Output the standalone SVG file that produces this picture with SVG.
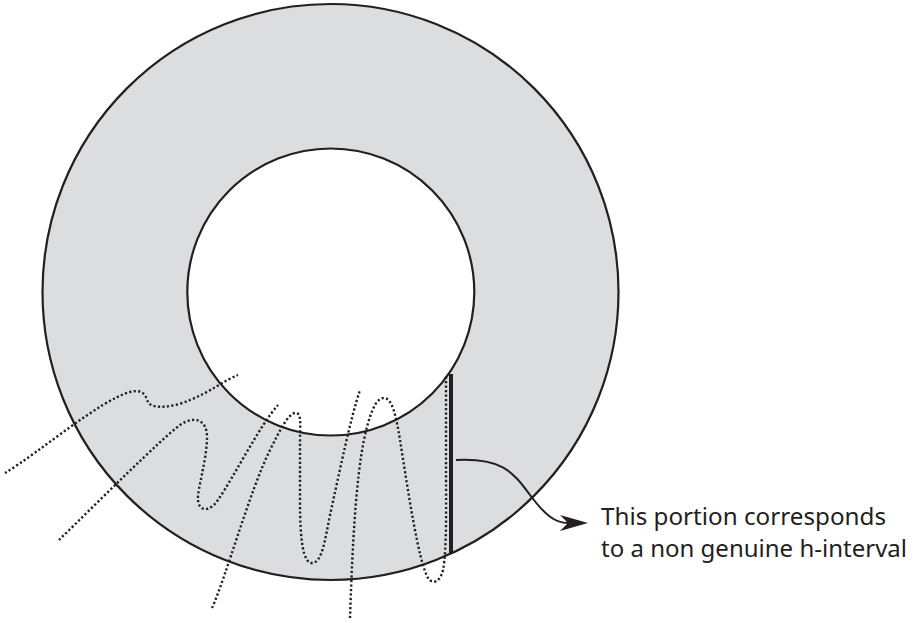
<svg xmlns="http://www.w3.org/2000/svg" width="916" height="623" viewBox="0 0 916 623">
  <style>
    .ring { stroke: #231f20; stroke-width: 2.2; }
    .dots { fill: none; stroke: #231f20; stroke-width: 2.4; stroke-dasharray: 2.2 2.3; }
    .conn { fill: none; stroke: #231f20; stroke-width: 2; }
    .label { font-family: "Noto Sans", "Liberation Sans", Arial, sans-serif; font-size: 24px; fill: #231f20; }
  </style>
  <defs>
    <marker id="arrow" viewBox="-30 -10 30 20" refX="-20" refY="0" markerWidth="30" markerHeight="20" markerUnits="userSpaceOnUse" orient="auto">
      <path d="M0,0 L-28,-8 L-20,0 L-28,8 Z" fill="#231f20"/>
    </marker>
  </defs>
  <rect width="916" height="623" fill="#ffffff"/>

  <g id="annulus">
    <circle class="ring" cx="330.5" cy="292" r="288" fill="#dcdddf"/>
    <circle class="ring" cx="330.8" cy="292" r="143.5" fill="#ffffff"/>
  </g>

  <g id="strands">
    <path class="dots" d="M5,473 C40,452 100,400 130,392 C145,388 146,398 148,402 C152,410 175,407 190,400 C210,392 225,380 238,375"/>
    <path class="dots" d="M59,540 C100,500 160,440 180,425 C195,415 207,420 207,437 C207,460 197,490 198,500 C199,512 210,512 218,500 C235,475 260,425 278,405"/>
    <path class="dots" d="M212,608 C225,580 250,490 270,450 C280,430 288,414 295,413 C302,412 300,425 300,440 L300,500 C300,540 303,563 312,563 C322,563 325,540 330,515 C340,470 350,420 360,390"/>
    <path class="dots" d="M350,618 C352,560 355,480 365,435 C372,405 378,398 384,398 C392,398 396,415 400,440 C408,490 418,560 428,578 C433,585 440,582 443,570 C447,550 446,500 446,470 L446,375"/>
  </g>

  <g id="interval">
    <line x1="451" y1="374" x2="451" y2="553" stroke="#231f20" stroke-width="4"/>
  </g>

  <g id="connectors">
    <path class="conn" d="M456,460 C500,458 512,470 530,495 C545,515 555,523 568,523" marker-end="url(#arrow)"/>
  </g>

  <g id="note">
    <text class="label" x="601" y="525" textLength="285" lengthAdjust="spacingAndGlyphs">This portion corresponds</text>
    <text class="label" x="601" y="557" textLength="306" lengthAdjust="spacingAndGlyphs">to a non genuine h-interval</text>
  </g>
</svg>
